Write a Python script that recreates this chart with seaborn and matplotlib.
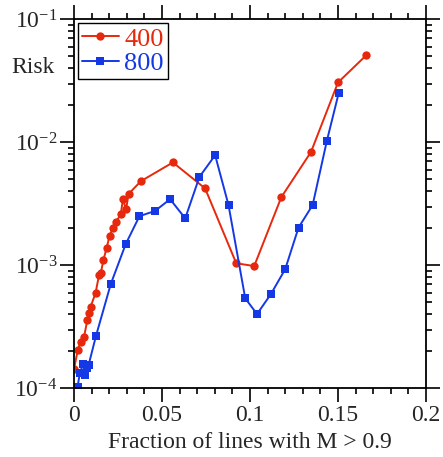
import numpy as np
import pandas as pd
import seaborn as sns
import matplotlib
matplotlib.use("Agg")
import matplotlib.pyplot as plt
from matplotlib.ticker import LogLocator, MultipleLocator, FixedLocator, FixedFormatter

# Data
x_400 = [0.0, 0.0021, 0.0038, 0.0057, 0.0076, 0.0085, 0.0095, 0.0123, 0.0142, 0.0152,
         0.0167, 0.0185, 0.0202, 0.022, 0.0239, 0.0266, 0.0278, 0.0296, 0.031, 0.038,
         0.0562, 0.0745, 0.0922, 0.1024, 0.1178, 0.1347, 0.150, 0.1661]
y_400 = [1.43e-4, 2.04e-4, 2.4e-4, 2.62e-4, 3.6e-4, 4.12e-4, 4.63e-4, 6.0e-4, 8.3e-4, 8.6e-4,
         1.10e-3, 1.38e-3, 1.73e-3, 2.0e-3, 2.26e-3, 2.6e-3, 3.45e-3, 2.85e-3, 3.8e-3, 4.83e-3,
         6.86e-3, 4.22e-3, 1.04e-3, 9.87e-4, 3.58e-3, 8.36e-3, 3.06e-2, 5.1e-2]

x_800 = [0.002, 0.0034, 0.0051, 0.0063, 0.0074, 0.0083, 0.0125, 0.0209, 0.0294, 0.0372,
         0.0461, 0.0546, 0.0632, 0.0713, 0.0802, 0.0878, 0.0973, 0.104, 0.1119, 0.120,
         0.1276, 0.1356, 0.1437, 0.1504]
y_800 = [1.03e-4, 1.34e-4, 1.58e-4, 1.29e-4, 1.47e-4, 1.55e-4, 2.67e-4, 7.05e-4, 1.49e-3, 2.51e-3,
         2.77e-3, 3.45e-3, 2.41e-3, 5.24e-3, 7.85e-3, 3.09e-3, 5.4e-4, 4.02e-4, 5.85e-4, 9.3e-4,
         2.03e-3, 3.09e-3, 1.03e-2, 2.51e-2]

x_ticks = [0, 0.05, 0.1, 0.15, 0.2]
x_tick_labels = ["0", "0.05", "0.1", "0.15", "0.2"]

red = "#e8280c"
blue = "#1438e6"

df = pd.concat([
    pd.DataFrame({"frac": x_400, "risk": y_400, "N": "400"}),
    pd.DataFrame({"frac": x_800, "risk": y_800, "N": "800"}),
])

sns.set_theme(style="ticks")
plt.rcParams["font.family"] = ["Liberation Serif", "DejaVu Serif"]
plt.rcParams["mathtext.fontset"] = "stix"
plt.rcParams["axes.linewidth"] = 1.3

fig = plt.figure(figsize=(4.43, 4.57), dpi=100)
ax = fig.add_axes([0.167, 0.15, 0.7946, 0.808])

sns.lineplot(data=df, x="frac", y="risk", hue="N", style="N",
             markers=["o", "s"], dashes=False, palette=[red, blue],
             sort=False, markersize=6, linewidth=1.4, markeredgewidth=0,
             ax=ax)

ax.set_yscale("log")
ax.set_xlim(0, 0.2)
ax.set_ylim(1e-4, 1e-1)

ax.xaxis.set_major_locator(FixedLocator(x_ticks))
ax.xaxis.set_major_formatter(FixedFormatter(x_tick_labels))
ax.xaxis.set_minor_locator(MultipleLocator(0.01))
ax.yaxis.set_major_locator(LogLocator(base=10, numticks=10))
ax.yaxis.set_minor_locator(LogLocator(base=10, subs=np.arange(2, 10), numticks=10))

ax.tick_params(which="both", direction="out", top=True, right=True,
               labelsize=17, width=1.2, color="black", pad=2)
ax.tick_params(which="major", length=10)
ax.tick_params(which="minor", length=4)
for s in ax.spines.values():
    s.set_color("black")

ax.set_xlabel("Fraction of lines with M > 0.9", fontsize=17, labelpad=4)
ax.set_ylabel("Risk", fontsize=17, rotation=0, ha="center", va="center")
ax.yaxis.set_label_coords(-0.116, 0.87)

handles, labels = ax.get_legend_handles_labels()
leg = ax.legend(handles, labels, loc="upper left", fontsize=19, labelcolor="linecolor",
                frameon=True, fancybox=False, edgecolor="black", framealpha=1,
                handlelength=1.4, handletextpad=0.2, labelspacing=0.05,
                borderpad=0.15, borderaxespad=0.15)
leg.get_frame().set_linewidth(1.0)

fig.savefig("out.png", dpi=100)
